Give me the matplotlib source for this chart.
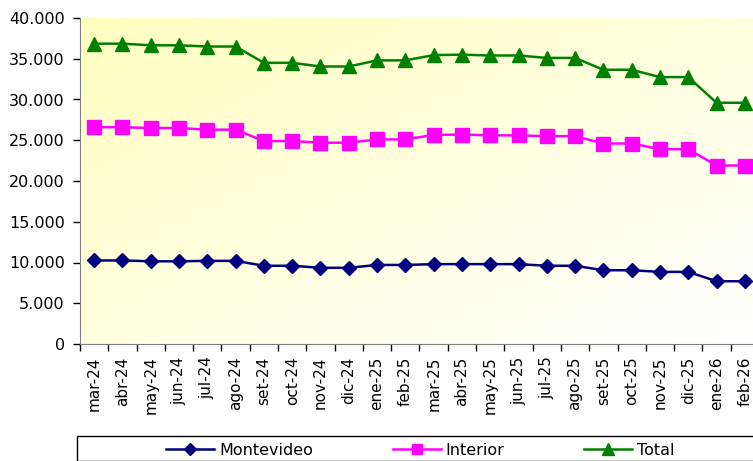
import numpy as np
import matplotlib
matplotlib.use('Agg')
import matplotlib.pyplot as plt
from matplotlib.patches import Rectangle
from matplotlib.colors import LinearSegmentedColormap
from matplotlib.ticker import FuncFormatter

# --- data ---
months = ["mar-24", "abr-24", "may-24", "jun-24", "jul-24", "ago-24",
          "set-24", "oct-24", "nov-24", "dic-24", "ene-25", "feb-25",
          "mar-25", "abr-25", "may-25", "jun-25", "jul-25", "ago-25",
          "set-25", "oct-25", "nov-25", "dic-25", "ene-26", "feb-26"]
montevideo = [10250, 10250, 10150, 10150, 10200, 10200, 9600, 9600, 9350, 9350,
              9700, 9700, 9800, 9800, 9800, 9800, 9600, 9600, 9050, 9050,
              8850, 8850, 7700, 7700]
interior = [26600, 26600, 26500, 26500, 26300, 26300, 24900, 24900, 24700, 24700,
            25100, 25100, 25650, 25700, 25600, 25600, 25500, 25500, 24600, 24600,
            23900, 23900, 21900, 21900]
total = [36850, 36850, 36650, 36650, 36500, 36500, 34500, 34500, 34050, 34050,
         34800, 34800, 35450, 35500, 35400, 35400, 35100, 35100, 33650, 33650,
         32750, 32750, 29600, 29600]
yticks = [0, 5000, 10000, 15000, 20000, 25000, 30000, 35000, 40000]

W, H = 753, 461
fig = plt.figure(figsize=(W / 100, H / 100), dpi=100)
ax = fig.add_axes([80 / W, 1 - 344 / H, 679 / W, 326 / H])

# pale yellow -> white diagonal gradient for the plot area
gx, gy = np.meshgrid(np.linspace(0, 1, 200), np.linspace(0, 1, 200))
grad = (gx + gy) / 2
cmap = LinearSegmentedColormap.from_list("bg", ["#ffffc0", "#ffffff"])
ax.imshow(grad, cmap=cmap, extent=[0, 1, 0, 1], transform=ax.transAxes,
          aspect='auto', zorder=0, interpolation='bilinear')

x = np.arange(len(months))
ax.plot(x, montevideo, color="#000080", lw=1.8, marker='D', ms=7.5,
        label="Montevideo", zorder=3)
ax.plot(x, interior, color="#ff00ff", lw=1.8, marker='s', ms=9.5,
        label="Interior", zorder=3)
ax.plot(x, total, color="#008000", lw=1.8, marker='^', ms=10,
        label="Total", zorder=3)

ax.set_xlim(-0.5, len(months) - 0.5)
ax.set_ylim(0, 40000)
ax.set_yticks(yticks)
ax.yaxis.set_major_formatter(FuncFormatter(lambda v, p: f"{int(v):,}".replace(",", ".")))
ax.set_xticks(x)
ax.set_xticklabels(months, rotation=90)
ax.set_xticks(np.arange(-0.5, len(months), 1), minor=True)
ax.tick_params(axis='x', which='major', length=0, pad=9, labelsize=11)
ax.tick_params(axis='x', which='minor', length=5, color='black', width=1)
ax.tick_params(axis='y', length=5, color='black', width=1, labelsize=11.5, pad=6)

ax.spines['top'].set_visible(False)
ax.spines['right'].set_visible(False)
ax.spines['left'].set_color('#808080')
ax.spines['bottom'].set_color('#808080')
ax.grid(False)

# legend box at the bottom (runs past the figure edge like the original)
fig.patches.append(Rectangle((77 / W, 0), 1.0, 1 - 436 / H, transform=fig.transFigure,
                             fill=False, edgecolor='black', lw=1))
fig.legend(loc='center left', bbox_to_anchor=(160 / W, 1 - 450 / H), ncol=3,
           frameon=False, fontsize=11.5, handlelength=3.0, handletextpad=0.3,
           columnspacing=5.0, borderaxespad=0, markerscale=0.8)

fig.savefig("out.png", dpi=100)
